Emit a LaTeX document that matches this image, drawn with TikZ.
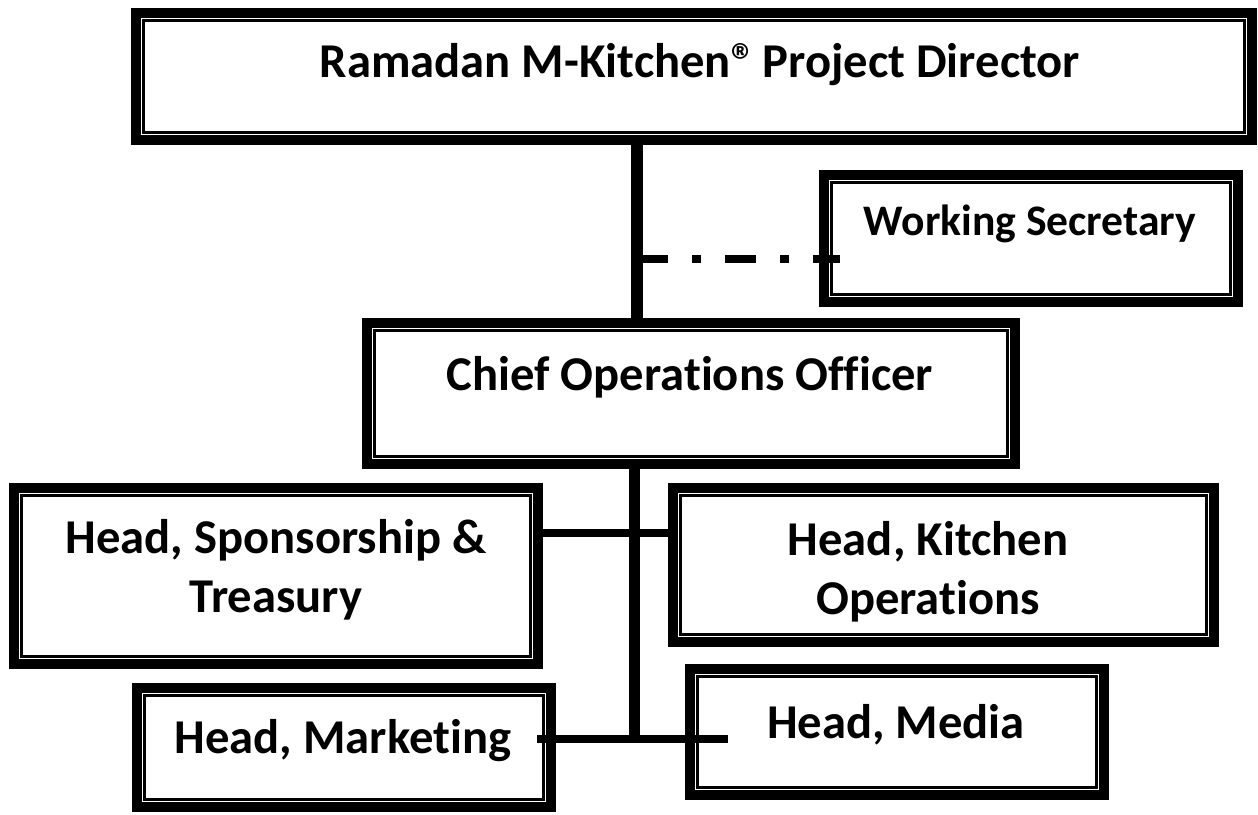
\documentclass[tikz,border=0pt]{standalone}
\usepackage{fontspec}
\setmainfont{Carlito}[Ligatures=NoCommon]
\usetikzlibrary{calc}
\begin{document}
\begin{tikzpicture}[x=1pt,y=-1pt,
  dbox/.style={draw=black, fill=white, line width=10pt, inner sep=0pt},
  lbl/.style={font=\fontsize{48.6}{59}\selectfont\bfseries, inner sep=0pt, align=center, anchor=base},
  slbl/.style={lbl, font=\fontsize{43.6}{53}\selectfont\bfseries},
  conn/.style={draw=black, line cap=butt}]
\useasboundingbox[fill=white] (0,0) rectangle (1258,814);
% boxes (centre, stroke-centre size)
\node[dbox, minimum width=1116pt, minimum height=127pt] (dir) at (694,76.5) {};
\node[dbox, minimum width=414pt, minimum height=127pt] (sec) at (1031,238.5) {};
\node[dbox, minimum width=648pt, minimum height=141pt] (coo) at (691,393.5) {};
\node[dbox, minimum width=524pt, minimum height=176pt] (spo) at (276,576) {};
\node[dbox, minimum width=541pt, minimum height=154pt] (kit) at (943.5,565) {};
\node[dbox, minimum width=414pt, minimum height=119pt] (mkt) at (344,747.5) {};
\node[dbox, minimum width=414pt, minimum height=126pt] (med) at (897,732) {};
\foreach \n in {dir,sec,coo,spo,kit,mkt,med}
  \draw[line width=2.5pt] ([shift={(12.5,12.5)}]\n.north west) rectangle ([shift={(-12.5,-12.5)}]\n.south east);
% labels
\node[lbl] (dirT) at (700,77) {Ramadan M-Kitchen®\kern-4pt{} Project Director};
\node[slbl] (secT) at (1030,235) {Working Secretary};
\node[lbl] (cooT) at (690,390) {Chief Operations Officer};
\node[lbl] (spoT) at (276,612) {Head, Sponsorship \&\\Treasury};
\node[lbl] (kitT) at (928,614) {Head, Kitchen\\Operations};
\node[lbl] (mktT) at (343,753) {Head, Marketing};
\node[lbl] (medT) at (896,738) {Head, Media};
% connector coordinates
\coordinate (spineA) at (637,0);
\coordinate (spineB) at (634,0);
\coordinate (hd) at (0,259);
\coordinate (hk) at (0,533);
\coordinate (hm) at (0,739);
\coordinate (dEnd) at ([xshift=21pt]sec.west);
\coordinate (mL) at ([xshift=-19pt]mkt.east);
\coordinate (mR) at ([xshift=43pt]med.west);
% connectors
\draw[conn, line width=12pt] (spineA |- dir.south) -- (spineA |- coo.north);
\draw[conn, line width=8pt, dash pattern=on 31pt off 24pt on 9pt off 24pt] (spineA |- hd) -- (dEnd |- hd);
\draw[conn, line width=11pt] (spineB |- coo.south) -- ($(spineB |- hm)+(0,4)$);
\draw[conn, line width=8pt] (spo.east |- hk) -- (kit.west |- hk);
\draw[conn, line width=8pt] (mL |- hm) -- (mR |- hm);
\end{tikzpicture}
\end{document}
